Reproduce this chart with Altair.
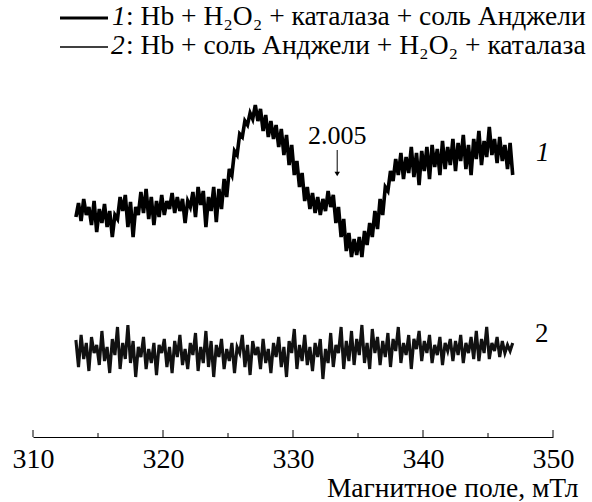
import altair as alt
import pandas as pd

# EPR spectra, magnetic field sweep (mT); signal in arbitrary units
FIELD_START = 313.3
FIELD_STEP = 0.2

trace1 = [
    220, 234, 216, 238, 222, 230, 212, 236, 205, 228, 214, 233, 210, 226, 200, 222,
    218, 240, 226, 242, 210, 235, 200, 230, 222, 245, 224, 248, 218, 240, 212, 236,
    220, 242, 222, 236, 228, 244, 224, 240, 226, 238, 214, 236, 230, 245, 220, 250,
    232, 246, 210, 240, 226, 250, 215, 248, 228, 258, 240, 268, 262, 286, 282, 303,
    300, 316, 312, 324, 318, 332, 316, 328, 306, 322, 300, 316, 298, 312, 290, 308,
    282, 302, 272, 292, 262, 276, 250, 264, 236, 250, 228, 244, 224, 240, 222, 238,
    226, 246, 230, 242, 214, 230, 200, 218, 186, 204, 180, 198, 182, 200, 180, 206,
    192, 214, 200, 226, 208, 238, 222, 250, 246, 266, 256, 278, 262, 284, 258, 280,
    264, 290, 260, 284, 252, 286, 266, 290, 258, 292, 270, 288, 262, 296, 268, 290,
    272, 298, 266, 294, 276, 302, 268, 292, 262, 298, 278, 306, 272, 296, 280, 310,
    282, 298, 274, 300, 276, 292, 268, 294, 262,
]

trace2 = [
    97, 70, 102, 78, 94, 66, 100, 84, 92, 72, 106, 76, 90, 64, 98, 82,
    110, 68, 94, 78, 112, 74, 96, 60, 90, 80, 100, 68, 88, 74, 94, 62,
    92, 84, 98, 70, 90, 64, 96, 80, 102, 72, 88, 68, 94, 82, 104, 66,
    90, 74, 106, 70, 96, 60, 92, 80, 98, 68, 88, 76, 94, 64, 90, 84,
    102, 70, 92, 62, 96, 82, 90, 68, 98, 74, 88, 64, 94, 80, 100, 70,
    90, 60, 96, 84, 108, 68, 92, 76, 102, 72, 90, 66, 94, 80, 98, 58,
    88, 74, 104, 70, 92, 84, 110, 68, 96, 76, 106, 72, 98, 82, 112, 74,
    94, 68, 108, 84, 100, 72, 96, 80, 104, 70, 98, 86, 110, 74, 94, 82,
    102, 68, 98, 88, 106, 76, 96, 84, 102, 74, 92, 82, 100, 72, 94, 86,
    98, 76, 96, 82, 102, 74, 94, 84, 100, 78, 106, 76, 98, 84, 110, 78,
    94, 86, 100, 80, 96, 84, 92, 86, 94,
]

x_major = [310, 320, 330, 340, 350]
x_minor = [315, 325, 335, 345]
g_field = [333.4]
g_label = "2.005"
axis_title = "Магнитное поле, мТл"
legend1 = ": Hb + H₂O₂ + каталаза + соль Анджели"
legend2 = ": Hb + соль Анджели + H₂O₂ + каталаза"

FONT = "Liberation Serif"

df1 = pd.DataFrame({"field": [round(FIELD_START + FIELD_STEP * i, 2) for i in range(len(trace1))],
                    "signal": trace1})
df2 = pd.DataFrame({"field": [round(FIELD_START + FIELD_STEP * i, 2) for i in range(len(trace2))],
                    "signal": trace2})

xscale = alt.Scale(domain=[310, 350], nice=False, zero=False)
yscale = alt.Scale(domain=[0, 437], nice=False, zero=False)

xaxis = alt.Axis(values=x_major, ticks=False, domain=True, domainColor="black", domainWidth=1,
                 labelFont=FONT, labelFontSize=28, labelColor="black", labelPadding=8,
                 labelFlush=False, format="d", grid=False,
                 title=axis_title, titleFont=FONT, titleFontSize=27.5, titleFontWeight="normal",
                 titleColor="black", titleAlign="right", titleAnchor="end",
                 titleX=545, titleY=51, titleBaseline="middle")

line1 = alt.Chart(df1).mark_line(color="black", strokeWidth=3.6, strokeJoin="miter").encode(
    x=alt.X("field:Q", scale=xscale, axis=xaxis),
    y=alt.Y("signal:Q", scale=yscale, axis=None),
)
line2 = alt.Chart(df2).mark_line(color="#111111", strokeWidth=3.1, strokeJoin="miter").encode(
    x=alt.X("field:Q", scale=xscale),
    y=alt.Y("signal:Q", scale=yscale),
)

major = alt.Chart(pd.DataFrame({"t": x_major})).mark_rule(color="black", strokeWidth=1).encode(
    x=alt.X("t:Q", scale=xscale), y=alt.value(430), y2=alt.value(437))
minor = alt.Chart(pd.DataFrame({"t": x_minor})).mark_rule(color="black", strokeWidth=1).encode(
    x=alt.X("t:Q", scale=xscale), y=alt.value(433), y2=alt.value(437))

gdf = pd.DataFrame({"f": g_field, "lab": [g_label]})
g_text = alt.Chart(gdf).mark_text(font=FONT, fontSize=26, color="black", baseline="middle").encode(
    x=alt.X("f:Q", scale=xscale), y=alt.value(136), text="lab:N")
g_arrow = alt.Chart(gdf).mark_rule(color="black", strokeWidth=1).encode(
    x=alt.X("f:Q", scale=xscale), y=alt.value(150), y2=alt.value(172))
g_head = alt.Chart(gdf).mark_point(shape="triangle-down", filled=True, color="black", size=30, opacity=1).encode(
    x=alt.X("f:Q", scale=xscale), y=alt.value(174))

lab_df = pd.DataFrame({"lab": ["1", "2"]})
lab1 = alt.Chart(lab_df.iloc[[0]]).mark_text(font=FONT, fontSize=27, fontStyle="italic", color="black",
                                             baseline="middle", align="left").encode(
    x=alt.value(503), y=alt.value(153), text="lab:N")
lab2 = alt.Chart(lab_df.iloc[[1]]).mark_text(font=FONT, fontSize=27, color="black",
                                             baseline="middle", align="left").encode(
    x=alt.value(502), y=alt.value(334), text="lab:N")

leg_df = pd.DataFrame({"num": ["1", "2"], "txt": [legend1, legend2]})
leg_line1 = alt.Chart(leg_df.iloc[[0]]).mark_rule(color="black", strokeWidth=3).encode(
    x=alt.value(27), x2=alt.value(75), y=alt.value(18))
leg_line2 = alt.Chart(leg_df.iloc[[1]]).mark_rule(color="black", strokeWidth=1.5).encode(
    x=alt.value(27), x2=alt.value(75), y=alt.value(47))
leg_num1 = alt.Chart(leg_df.iloc[[0]]).mark_text(font=FONT, fontSize=27.5, fontStyle="italic", color="black",
                                                 align="left", baseline="middle").encode(
    x=alt.value(79), y=alt.value(17), text="num:N")
leg_num2 = alt.Chart(leg_df.iloc[[1]]).mark_text(font=FONT, fontSize=27.5, fontStyle="italic", color="black",
                                                 align="left", baseline="middle").encode(
    x=alt.value(78), y=alt.value(46), text="num:N")
leg_txt1 = alt.Chart(leg_df.iloc[[0]]).mark_text(font=FONT, fontSize=27.5, color="black",
                                                 align="left", baseline="middle").encode(
    x=alt.value(93), y=alt.value(17), text="txt:N")
leg_txt2 = alt.Chart(leg_df.iloc[[1]]).mark_text(font=FONT, fontSize=27.5, color="black",
                                                 align="left", baseline="middle").encode(
    x=alt.value(93), y=alt.value(46), text="txt:N")

chart = alt.layer(
    line1, line2, major, minor, g_text, g_arrow, g_head, lab1, lab2,
    leg_line1, leg_line2, leg_num1, leg_num2, leg_txt1, leg_txt2,
).properties(
    width=520, height=437,
    autosize=alt.AutoSizeParams(type="none"),
    padding={"left": 33, "top": 0, "right": 39, "bottom": 65},
    background="white",
).configure_view(stroke=None)

chart.save("out.html", embed_options={"renderer": "svg", "actions": False})
